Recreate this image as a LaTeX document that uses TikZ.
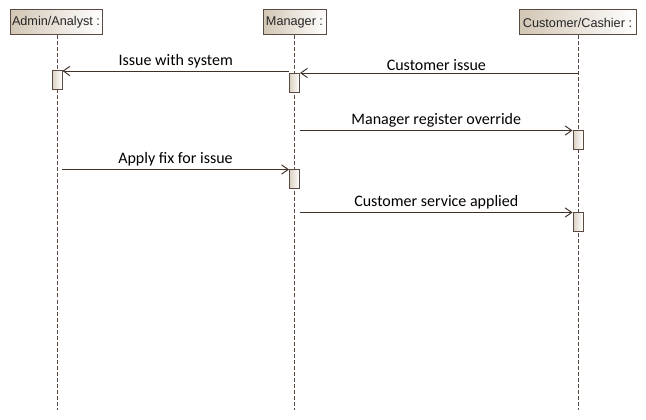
\documentclass[tikz,border=0pt]{standalone}
\usepackage{fontspec}
\setmainfont{Carlito}
\newfontfamily\headfont{Liberation Sans}
\usetikzlibrary{arrows.meta}
\definecolor{lineC}{HTML}{3F3028}
\definecolor{boxC}{HTML}{5A4A42}
\definecolor{tanC}{HTML}{D2C6B4}
\definecolor{lifeC}{HTML}{5A4A42}
\tikzset{
  headbox/.style={draw=boxC, line width=0.75pt, left color=tanC, right color=white, inner sep=0pt, font=\headfont\fontsize{9.5}{11}\selectfont, text=black!85},
  actbox/.style={draw=boxC, line width=0.75pt, left color=tanC!80, right color=white, inner sep=0pt, minimum width=7.5pt, minimum height=14.25pt},
  lifeline/.style={draw=lifeC, dashed, dash pattern=on 3pt off 1.5pt, line width=0.6pt},
  msg/.style={draw=lineC, line width=0.7pt, -{Straight Barb[length=5pt,width=7pt]}},
  msglbl/.style={font=\fontsize{12}{14}\selectfont, text=black, inner sep=0pt},
}
\begin{document}
\begin{tikzpicture}[x=0.75pt,y=-0.75pt]
\useasboundingbox (0,0) rectangle (646,420);
% heads
\node[headbox, minimum width=69pt, minimum height=18.75pt] (hA) at (56,22.5) {Admin/Analyst :};
\node[headbox, minimum width=47.25pt, minimum height=18.75pt] (hM) at (294.5,22.5) {Manager :};
\node[headbox, minimum width=87.75pt, minimum height=18.75pt] (hC) at (577.5,22.5) {Customer/Cashier :};
% lifeline ends
\coordinate (eA) at (57,410);
\coordinate (eM) at (294.5,410);
\coordinate (eC) at (578,410);
\draw[lifeline] (hA.south -| eA) -- (eA);
\draw[lifeline] (hM.south -| eM) -- (eM);
\draw[lifeline] (hC.south -| eC) -- (eC);
% activations
\node[actbox, anchor=north] (aA1) at (57,70.5) {};
\node[actbox, anchor=north] (aM1) at (294.5,73) {};
\node[actbox, anchor=north] (aC1) at (578,130.5) {};
\node[actbox, anchor=north] (aM2) at (294.5,169.5) {};
\node[actbox, anchor=north] (aC2) at (578,212.5) {};
% message endpoints
\coordinate (sC1) at (578,73);
\coordinate (sA2) at (62,169.5);
% messages
\draw[msg] (aM1.north west |- 0,71) -- node[msglbl, above=2pt]{Issue with system} (aA1.north east |- 0,71);
\draw[msg] (sC1) -- node[msglbl, above=1.5pt, xshift=-2pt]{Customer issue} (aM1.north east |- sC1);
\draw[msg] (aM1.east |- aC1.north) -- node[msglbl, above=2pt]{Manager register override} (aC1.north west);
\draw[msg] (sA2) -- node[msglbl, above=2pt]{Apply fix for issue} (aM2.north west);
\draw[msg] (aM2.east |- aC2.north) -- node[msglbl, above=2pt]{Customer service applied} (aC2.north west);
\end{tikzpicture}
\end{document}
